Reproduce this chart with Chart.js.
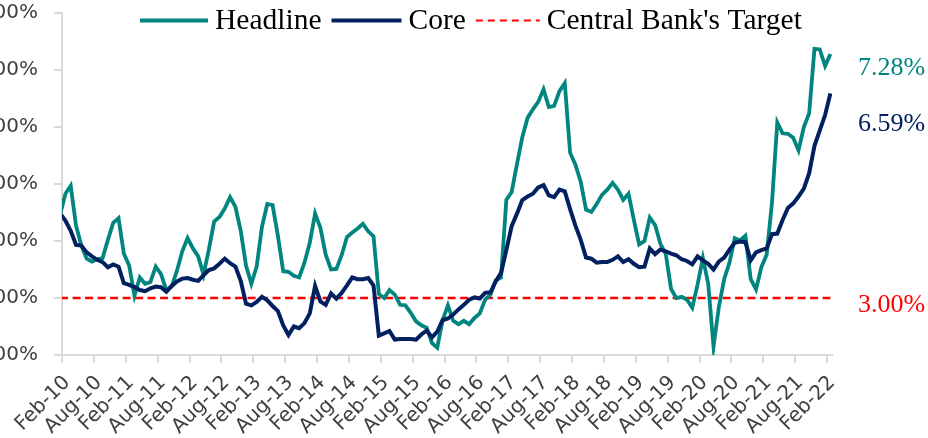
<!DOCTYPE html>
<html>
<head>
<meta charset="utf-8">
<script src="https://cdn.jsdelivr.net/npm/chart.js@4.4.1/dist/chart.umd.min.js"></script>
<style>
  html, body { margin: 0; padding: 0; background: #fff; overflow: hidden; }
  #wrap { position: relative; width: 928px; height: 438px; overflow: hidden; }
  #myChart { position: absolute; left: -24px; top: 0; }
</style>
</head>
<body>
<div id="wrap"><canvas id="myChart" width="952" height="438"></canvas></div>
<script>
// monthly series, Jan-10 .. Feb-22
const monthNames = ['Jan','Feb','Mar','Apr','May','Jun','Jul','Aug','Sep','Oct','Nov','Dec'];
let months = [];
for (let y = 10; y <= 22; y++) {
  for (let m = 0; m < 12; m++) {
    if (y == 22 && m > 1) break;
    months.push(monthNames[m] + '-' + y);
  }
}

const headline = [
  4.46, 4.83, 4.97, 4.27, 3.92, 3.69, 3.64, 3.68, 3.70, 4.02, 4.32, 4.40,
  3.78, 3.57, 3.04, 3.36, 3.25, 3.28, 3.55, 3.42, 3.14, 3.20, 3.48, 3.82,
  4.05, 3.87, 3.73, 3.41, 3.85, 4.34, 4.42, 4.57, 4.77, 4.60, 4.18, 3.57,
  3.25, 3.55, 4.25, 4.65, 4.63, 4.09, 3.47, 3.46, 3.39, 3.36, 3.62, 3.97,
  4.48, 4.23, 3.76, 3.50, 3.51, 3.75, 4.07, 4.15, 4.22, 4.30, 4.17, 4.08,
  3.07, 3.00, 3.14, 3.06, 2.88, 2.87, 2.74, 2.59, 2.52, 2.48, 2.21, 2.13,
  2.61, 2.87, 2.60, 2.54, 2.60, 2.54, 2.65, 2.73, 2.97, 3.06, 3.31, 3.36,
  4.72, 4.86, 5.35, 5.82, 6.16, 6.31, 6.44, 6.66, 6.35, 6.37, 6.63, 6.77,
  5.55, 5.34, 5.04, 4.55, 4.51, 4.65, 4.81, 4.90, 5.02, 4.90, 4.72, 4.83,
  4.37, 3.94, 4.00, 4.41, 4.28, 3.95, 3.78, 3.16, 3.00, 3.02, 2.97, 2.83,
  3.24, 3.70, 3.25, 2.15, 2.84, 3.33, 3.62, 4.05, 4.01, 4.09, 3.33, 3.15,
  3.54, 3.76, 4.67, 6.08, 5.89, 5.88, 5.81, 5.59, 6.00, 6.24, 7.37, 7.36,
  7.07, 7.28
];

const core = [
  4.48, 4.36, 4.18, 3.93, 3.92, 3.80, 3.73, 3.67, 3.63, 3.54, 3.59, 3.55,
  3.26, 3.23, 3.19, 3.14, 3.12, 3.17, 3.20, 3.19, 3.11, 3.21, 3.29, 3.34,
  3.35, 3.32, 3.30, 3.40, 3.49, 3.52, 3.60, 3.69, 3.61, 3.55, 3.30, 2.90,
  2.87, 2.93, 3.02, 2.96, 2.86, 2.77, 2.52, 2.35, 2.50, 2.47, 2.56, 2.73,
  3.21, 2.94, 2.88, 3.08, 2.99, 3.09, 3.22, 3.36, 3.33, 3.33, 3.35, 3.22,
  2.34, 2.38, 2.42, 2.27, 2.28, 2.28, 2.28, 2.27, 2.36, 2.43, 2.31, 2.41,
  2.61, 2.64, 2.71, 2.80, 2.88, 2.97, 3.01, 2.99, 3.09, 3.10, 3.29, 3.44,
  3.84, 4.26, 4.48, 4.72, 4.78, 4.83, 4.94, 4.98, 4.80, 4.77, 4.90, 4.87,
  4.56, 4.27, 4.02, 3.71, 3.69, 3.62, 3.63, 3.63, 3.67, 3.73, 3.63, 3.68,
  3.60, 3.54, 3.55, 3.87, 3.77, 3.85, 3.82, 3.78, 3.75, 3.68, 3.65, 3.59,
  3.73, 3.66, 3.60, 3.50, 3.64, 3.71, 3.85, 3.97, 3.99, 3.98, 3.66, 3.80,
  3.84, 3.87, 4.12, 4.13, 4.37, 4.58, 4.66, 4.78, 4.92, 5.19, 5.67, 5.94,
  6.21, 6.59
];

const target = 3.0;

const tickLabels = ['Feb-10','Aug-10','Feb-11','Aug-11','Feb-12','Aug-12','Feb-13','Aug-13',
  'Feb-14','Aug-14','Feb-15','Aug-15','Feb-16','Aug-16','Feb-17','Aug-17','Feb-18','Aug-18',
  'Feb-19','Aug-19','Feb-20','Aug-20','Feb-21','Aug-21','Feb-22'];

const seriesNames = ['Headline', 'Core', "Central Bank's Target"];
const seriesColors = ['#00857F', '#002060', '#FF0000'];

// x axis in month-index units (0 = Jan-10)
const X_START = 0.36;
const X_END = 145.3;

const toPoints = (arr) => arr.map((v, i) => ({x: i, y: v}));

const extras = {
  id: 'extras',
  afterDatasetsDraw(chart) {
    const ctx = chart.ctx;
    const area = chart.chartArea;
    ctx.save();
    // end labels
    ctx.font = '26px "Liberation Serif"';
    ctx.textAlign = 'left';
    ctx.textBaseline = 'middle';
    const offs = [14.5, 31, 7];
    [0, 1, 2].forEach((d) => {
      const meta = chart.getDatasetMeta(d);
      const pt = meta.data[meta.data.length - 1];
      const vals = chart.data.datasets[d].data;
      const v = vals[vals.length - 1].y;
      ctx.fillStyle = seriesColors[d];
      ctx.fillText(v.toFixed(2) + '%', area.right + 26, pt.y + offs[d]);
    });

    // legend across the top
    ctx.font = '29.5px "Liberation Serif"';
    ctx.textBaseline = 'alphabetic';
    const lens = [68, 70, 64];
    const widths = [4, 4, 2];
    let x = 164;
    seriesNames.forEach((name, i) => {
      ctx.beginPath();
      ctx.lineWidth = widths[i];
      ctx.strokeStyle = seriesColors[i];
      ctx.setLineDash(i == 2 ? [7, 5] : []);
      ctx.moveTo(x, 20.5);
      ctx.lineTo(x + lens[i], 20.5);
      ctx.stroke();
      x += lens[i] + 7;
      ctx.fillStyle = '#000';
      ctx.fillText(name, x, 28.5);
      x += ctx.measureText(name).width + 10;
    });
    ctx.restore();
  }
};

Chart.defaults.font.family = '"DejaVu Sans"';
Chart.defaults.color = '#404040';

const ctx = document.getElementById('myChart');
new Chart(ctx, {
  type: 'line',
  data: {
    datasets: [
      {
        label: seriesNames[0],
        data: toPoints(headline),
        borderColor: seriesColors[0],
        borderWidth: 3.8,
        pointRadius: 0,
        tension: 0,
        order: 2
      },
      {
        label: seriesNames[1],
        data: toPoints(core),
        borderColor: seriesColors[1],
        borderWidth: 4,
        pointRadius: 0,
        tension: 0,
        order: 1
      },
      {
        label: seriesNames[2],
        data: [{x: 0, y: target}, {x: months.length - 1, y: target}],
        borderColor: seriesColors[2],
        borderWidth: 2.5,
        borderDash: [8, 4.5],
        pointRadius: 0,
        order: 3
      }
    ]
  },
  options: {
    responsive: false,
    animation: false,
    devicePixelRatio: 1,
    layout: { padding: { left: 4, right: 96, top: 13, bottom: 0 } },
    plugins: {
      legend: { display: false },
      tooltip: { enabled: false }
    },
    scales: {
      x: {
        type: 'linear',
        min: X_START,
        max: X_END,
        afterBuildTicks: (scale) => {
          scale.ticks = tickLabels.map((_, k) => ({ value: X_START + 6 * k }));
        },
        afterFit: (scale) => { scale.height = 83; },
        ticks: {
          autoSkip: false,
          minRotation: 45,
          maxRotation: 45,
          padding: 8,
          labelOffset: 5,
          font: { size: 20 },
          callback: (val, idx) => tickLabels[idx]
        },
        grid: {
          display: true,
          drawOnChartArea: false,
          drawTicks: true,
          tickLength: 8,
          color: '#D9D9D9',
          lineWidth: 2
        },
        border: { display: true, color: '#D9D9D9', width: 2 }
      },
      y: {
        min: 2,
        max: 8,
        afterFit: (scale) => {
          scale.width = 82;
          scale.paddingTop = 0;
          scale.paddingBottom = 0;
        },
        ticks: {
          stepSize: 1,
          padding: 16,
          font: { size: 20 },
          callback: (v) => v.toFixed(2) + '%'
        },
        grid: {
          display: true,
          drawOnChartArea: false,
          drawTicks: true,
          tickLength: 8,
          color: '#D9D9D9',
          lineWidth: 2
        },
        border: { display: true, color: '#D9D9D9', width: 2 }
      }
    }
  },
  plugins: [extras]
});
</script>
</body>
</html>
